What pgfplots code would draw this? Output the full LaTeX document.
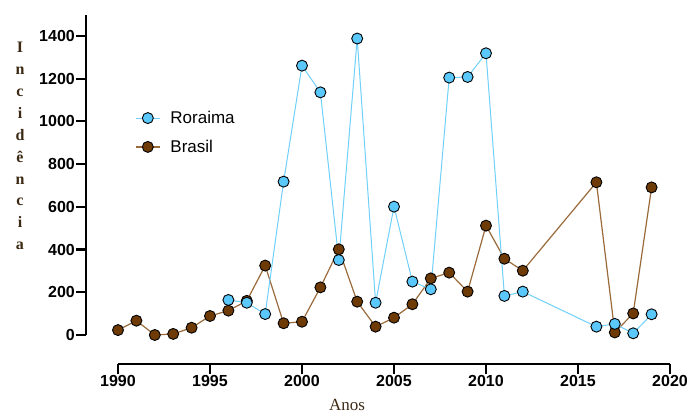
\documentclass[border=0pt]{standalone}
\usepackage{pgfplots}
\pgfplotsset{compat=1.18}
\usepackage{fontspec}
\setmainfont{Liberation Sans}
\newfontfamily\serifb{Liberation Serif}
\definecolor{rorfill}{HTML}{5AC8FA}
\definecolor{rorline}{HTML}{6FD0FA}
\definecolor{brafill}{HTML}{6E3A06}
\definecolor{braline}{HTML}{9A6A3A}
\definecolor{lblcol}{HTML}{3C2A14}
\begin{document}
\begin{tikzpicture}
\useasboundingbox (-118pt,-79pt) rectangle (570pt,335pt);
\begin{axis}[
  at={(0pt,0pt)}, anchor=south west,
  scale only axis, width=552pt, height=320.4pt,
  xmin=1990, xmax=2020, ymin=0, ymax=1500,
  clip=false,
  axis x line*=bottom, axis y line*=left,
  axis x line shift=29pt, axis y line shift=32pt,
  axis line style={line width=2.2pt, -},
  every tick/.style={line width=2.2pt, black},
  tick align=outside, major tick length=10pt,
  xtick={1990,1995,...,2020}, ytick={0,200,...,1400},
  minor tick num=0,
  /pgf/number format/assume math mode=true,
  /pgf/number format/1000 sep={},
  ticklabel style={font=\bfseries\fontsize{16}{16}\selectfont, inner sep=1pt},
  legend cell align=left,
  legend style={draw=none, fill=none, anchor=west,
    at={(axis description cs:0.0254,0.632)},
    font=\fontsize{17}{17}\selectfont, row sep=11pt, column sep=8pt},
  legend image code/.code={\draw[mark repeat=2,mark phase=2,#1] plot coordinates {(0pt,0pt) (12pt,0pt) (24pt,0pt)};},
]
\addlegendimage{color=rorline, line width=1pt, mark=*, mark size=5.5pt, mark options={fill=rorfill, draw=black, line width=0.9pt}}
\addlegendentry{Roraima}
\addlegendimage{color=braline, line width=1.2pt, mark=*, mark size=5.5pt, mark options={fill=brafill, draw=black, line width=0.9pt}}
\addlegendentry{Brasil}
\addplot[forget plot, color=braline, line width=1.2pt, mark=*, mark size=5.5pt, mark options={fill=brafill, draw=black, line width=0.9pt}] coordinates {
(1990,23) (1991,67) (1992,0) (1993,5) (1994,34) (1995,89) (1996,114) (1997,160) (1998,325) (1999,55) (2000,62) (2001,223) (2002,401) (2003,156) (2004,39) (2005,81) (2006,144) (2007,265) (2008,292) (2009,203) (2010,512) (2011,357) (2012,301) (2016,715) (2017,12) (2018,101) (2019,691)
};
\addplot[forget plot, color=rorline, line width=1pt, mark=*, mark size=5.5pt, mark options={fill=rorfill, draw=black, line width=0.9pt}] coordinates {
(1996,164) (1997,151) (1998,98) (1999,718) (2000,1261) (2001,1136) (2002,351) (2003,1388) (2004,151) (2005,601) (2006,250) (2007,214) (2008,1205) (2009,1208) (2010,1319) (2011,183) (2012,203) (2016,39) (2017,52) (2018,8) (2019,97)
};
\end{axis}
\node[anchor=north, align=center, inner sep=0pt, text=lblcol, font=\serifb\bfseries\fontsize{16}{21.9}\selectfont] at (-98pt,293pt) {I\\n\\c\\i\\d\\ê\\n\\c\\i\\a};
\node[anchor=base, inner sep=0pt, text=lblcol, font=\serifb\fontsize{17}{17}\selectfont] at (229pt,-76pt) {Anos};
\end{tikzpicture}
\end{document}
